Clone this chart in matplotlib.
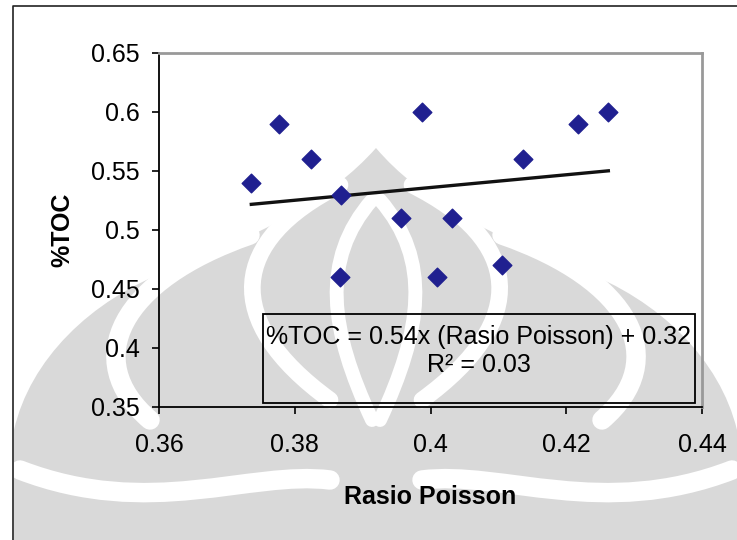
import matplotlib.pyplot as plt
import numpy as np
from matplotlib.path import Path
from matplotlib.patches import PathPatch, Rectangle

plt.rcParams['font.family'] = ['Liberation Sans', 'DejaVu Sans']

# Rasio Poisson vs %TOC
poisson = [0.3736, 0.3777, 0.3824, 0.3868, 0.3866, 0.3957, 0.3988,
           0.4032, 0.4009, 0.4105, 0.4136, 0.4217, 0.4262]
toc = [0.54, 0.59, 0.56, 0.53, 0.46, 0.51, 0.60,
       0.51, 0.46, 0.47, 0.56, 0.59, 0.60]

slope = 0.54
intercept = 0.32
r2 = 0.03

xticks = [0.36, 0.38, 0.40, 0.42, 0.44]
xticklabels = ['0.36', '0.38', '0.4', '0.42', '0.44']
yticks = [0.35, 0.40, 0.45, 0.50, 0.55, 0.60, 0.65]
yticklabels = ['0.35', '0.4', '0.45', '0.5', '0.55', '0.6', '0.65']

W, H = 737, 540
GRAY = '#d9d9d9'
CX = 376  # symmetry line of the background logo


def bez(pts):
    # first point is MOVETO, rest in groups of three are cubic segments
    codes = [Path.MOVETO] + [Path.CURVE4] * (len(pts) - 1)
    return Path(pts, codes)


def mirror(pts):
    return [(2 * CX - x, y) for x, y in pts]


def draw_logo(bg):
    outline = [(14, 540), (14, 430),
               (30, 360), (90, 300), (170, 270),
               (260, 235), (330, 200), (CX, 148),
               (420, 200), (490, 235), (580, 270),
               (660, 300), (720, 360), (737, 430),
               (737, 540), (14, 540)]
    codes = ([Path.MOVETO, Path.LINETO] + [Path.CURVE4] * 12
             + [Path.LINETO, Path.CLOSEPOLY])
    bg.add_patch(PathPatch(Path(outline, codes), fc=GRAY, ec='none'))

    strokes = [
        ([(372, 200), (320, 260), (330, 330), (372, 420)], 10),
        ([(340, 185), (230, 240), (220, 320), (330, 400)], 12),
        ([(250, 235), (120, 280), (80, 360), (150, 420)], 14),
        ([(20, 470), (150, 520), (250, 470), (330, 480)], 14),
    ]
    for pts, lw in strokes:
        for p in (pts, mirror(pts)):
            bg.add_patch(PathPatch(bez(p), fc='none', ec='white',
                                   lw=lw, capstyle='round'))


fig = plt.figure(figsize=(W / 100, H / 100), dpi=100)

bg = fig.add_axes([0, 0, 1, 1], zorder=0)
bg.set_xlim(0, W)
bg.set_ylim(H, 0)
bg.axis('off')
draw_logo(bg)
# chart area frame
bg.plot([13, 13, W], [H, 6, 6], color='#222222', lw=1.2)

ax = fig.add_axes([159 / W, 1 - 407 / H, 543 / W, 354 / H], zorder=1)
ax.set_facecolor('none')

ax.scatter(poisson, toc, marker='D', s=90, color='#202090', zorder=3)
xs = np.array([min(poisson), max(poisson)])
ax.plot(xs, slope * xs + intercept, color='#111111', lw=2.4, zorder=2)

ax.set_xlim(0.36, 0.44)
ax.set_ylim(0.35, 0.65)
ax.set_xticks(xticks)
ax.set_xticklabels(xticklabels)
ax.set_yticks(yticks)
ax.set_yticklabels(yticklabels)
ax.tick_params(axis='x', direction='out', length=5, width=1.2, pad=14,
               labelsize=18, colors='black')
ax.tick_params(axis='y', direction='out', length=5, width=1.2, pad=9,
               labelsize=18, colors='black')

for side in ('left', 'bottom'):
    ax.spines[side].set_color('black')
    ax.spines[side].set_linewidth(1.3)
for side in ('top', 'right'):
    ax.spines[side].set_color('#999999')
    ax.spines[side].set_linewidth(2)

ax.set_xlabel('Rasio Poisson', fontsize=18, fontweight='bold', labelpad=20)
ax.set_ylabel('%TOC', fontsize=18, fontweight='bold', labelpad=12)

ax.add_patch(Rectangle((0.1915, 0.011), 0.7955, 0.252, transform=ax.transAxes,
                       fill=False, ec='black', lw=1.3, zorder=4))
ax.text(0.589, 0.198,
        f'%TOC = {slope:.2f}x (Rasio Poisson) + {intercept:.2f}',
        transform=ax.transAxes, ha='center', va='center', fontsize=18)
ax.text(0.589, 0.118, f'R\u00b2 = {r2:.2f}', transform=ax.transAxes,
        ha='center', va='center', fontsize=18)

fig.savefig('out.png', dpi=100)
